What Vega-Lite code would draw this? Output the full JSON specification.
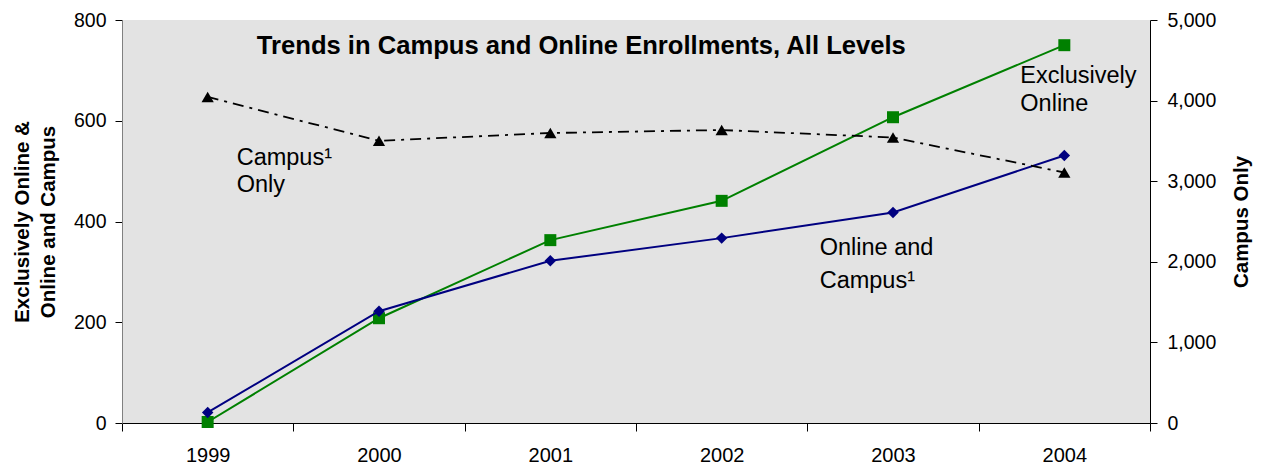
{
  "$schema": "https://vega.github.io/schema/vega-lite/v6.json",
  "autosize": "none",
  "width": 1028,
  "height": 403,
  "padding": {"left": 122, "top": 20, "right": 116, "bottom": 41},
  "background": "white",
  "config": {
    "view": {"fill": "#e3e3e3", "stroke": null},
    "font": "Liberation Sans",
    "axis": {
      "labelFont": "Liberation Sans",
      "titleFont": "Liberation Sans",
      "labelColor": "black",
      "titleColor": "black",
      "grid": false,
      "domainColor": "black",
      "tickColor": "black",
      "domainWidth": 1,
      "tickWidth": 1
    }
  },
  "data": {
    "values": [
      {"year": "1999", "series": "Exclusively Online", "value": 2},
      {"year": "2000", "series": "Exclusively Online", "value": 208},
      {"year": "2001", "series": "Exclusively Online", "value": 363},
      {"year": "2002", "series": "Exclusively Online", "value": 441},
      {"year": "2003", "series": "Exclusively Online", "value": 607},
      {"year": "2004", "series": "Exclusively Online", "value": 750},
      {"year": "1999", "series": "Online and Campus", "value": 21},
      {"year": "2000", "series": "Online and Campus", "value": 222},
      {"year": "2001", "series": "Online and Campus", "value": 322},
      {"year": "2002", "series": "Online and Campus", "value": 367},
      {"year": "2003", "series": "Online and Campus", "value": 418},
      {"year": "2004", "series": "Online and Campus", "value": 531},
      {"year": "1999", "series": "Campus Only", "value": 4045},
      {"year": "2000", "series": "Campus Only", "value": 3501},
      {"year": "2001", "series": "Campus Only", "value": 3598},
      {"year": "2002", "series": "Campus Only", "value": 3635},
      {"year": "2003", "series": "Campus Only", "value": 3542},
      {"year": "2004", "series": "Campus Only", "value": 3108}
    ]
  },
  "layer": [
    {
      "encoding": {
        "x": {
          "field": "year",
          "type": "ordinal",
          "bandPosition": 0.5,
          "scale": {"type": "band", "paddingInner": 0, "paddingOuter": 0},
          "axis": {
            "title": null,
            "tickBand": "extent",
            "labelAngle": 0,
            "tickSize": 8,
            "labelPadding": 14,
            "labelFontSize": 20
          }
        },
        "y": {
          "field": "value",
          "type": "quantitative",
          "scale": {"domain": [0, 800]},
          "axis": {
            "title": ["Exclusively Online &", "Online and Campus"],
            "values": [0, 200, 400, 600, 800],
            "domainColor": "#808080",
            "tickSize": 7,
            "labelPadding": 9,
            "labelFontSize": 19.5,
            "titleFontSize": 20.5,
            "titleFontWeight": "bold",
            "titleLineHeight": 26,
            "titlePadding": 15
          }
        }
      },
      "layer": [
        {
          "transform": [{"filter": "datum.series === 'Exclusively Online'"}],
          "mark": {"type": "line", "color": "#008000", "strokeWidth": 2}
        },
        {
          "transform": [{"filter": "datum.series === 'Exclusively Online'"}],
          "mark": {"type": "point", "shape": "square", "filled": true, "opacity": 1, "color": "#008000", "size": 144}
        },
        {
          "transform": [{"filter": "datum.series === 'Online and Campus'"}],
          "mark": {"type": "line", "color": "#000080", "strokeWidth": 2}
        },
        {
          "transform": [{"filter": "datum.series === 'Online and Campus'"}],
          "mark": {"type": "point", "shape": "diamond", "filled": true, "opacity": 1, "color": "#000080", "size": 132}
        },
        {
          "data": {"values": [{"year": "2001", "value": 748, "label": "Trends in Campus and Online Enrollments, All Levels"}]},
          "mark": {"type": "text", "align": "center", "baseline": "middle", "dx": 31, "fontSize": 25.6, "fontWeight": "bold", "font": "Liberation Sans", "color": "black"},
          "encoding": {"text": {"field": "label"}}
        },
        {
          "data": {"values": [{"year": "1999", "value": 512, "label": "Campus¹\nOnly"}]},
          "mark": {"type": "text", "align": "left", "baseline": "alphabetic", "dx": 29, "fontSize": 23.5, "lineHeight": 27, "lineBreak": "\n", "font": "Liberation Sans", "color": "black"},
          "encoding": {"text": {"field": "label"}}
        },
        {
          "data": {"values": [{"year": "2004", "value": 674, "label": "Exclusively\nOnline"}]},
          "mark": {"type": "text", "align": "left", "baseline": "alphabetic", "dx": -44, "fontSize": 23.5, "lineHeight": 28, "lineBreak": "\n", "font": "Liberation Sans", "color": "black"},
          "encoding": {"text": {"field": "label"}}
        },
        {
          "data": {"values": [{"year": "2002", "value": 333, "label": "Online and\nCampus¹"}]},
          "mark": {"type": "text", "align": "left", "baseline": "alphabetic", "dx": 98, "fontSize": 23.5, "lineHeight": 33, "lineBreak": "\n", "font": "Liberation Sans", "color": "black"},
          "encoding": {"text": {"field": "label"}}
        }
      ]
    },
    {
      "transform": [{"filter": "datum.series === 'Campus Only'"}],
      "encoding": {
        "x": {
          "field": "year",
          "type": "ordinal",
          "bandPosition": 0.5,
          "scale": {"type": "band", "paddingInner": 0, "paddingOuter": 0},
          "axis": {
            "title": null,
            "tickBand": "extent",
            "labelAngle": 0,
            "tickSize": 8,
            "labelPadding": 14,
            "labelFontSize": 20
          }
        },
        "y": {
          "field": "value",
          "type": "quantitative",
          "scale": {"domain": [0, 5000]},
          "axis": {
            "orient": "right",
            "title": "Campus Only",
            "format": ",d",
            "values": [0, 1000, 2000, 3000, 4000, 5000],
            "tickSize": 7,
            "labelPadding": 10,
            "labelFontSize": 19.5,
            "titleFontSize": 20.5,
            "titleFontWeight": "bold",
            "titleAngle": 270,
            "titlePadding": 36
          }
        }
      },
      "layer": [
        {"mark": {"type": "line", "color": "black", "strokeWidth": 1.8, "strokeDash": [11, 6, 3, 6]}},
        {"mark": {"type": "point", "shape": "triangle-up", "filled": true, "opacity": 1, "color": "black", "size": 150}}
      ]
    }
  ],
  "resolve": {"scale": {"y": "independent"}}
}
